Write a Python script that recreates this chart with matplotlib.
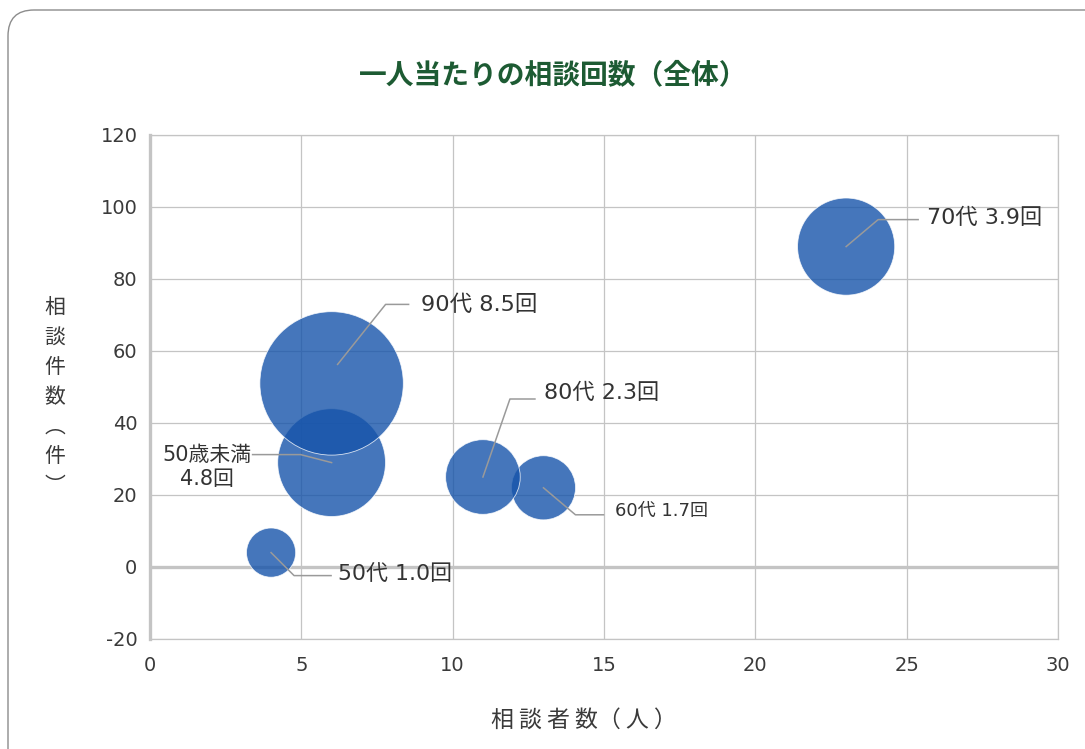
import matplotlib
matplotlib.use("Agg")
import matplotlib.pyplot as plt
from matplotlib.patches import FancyBboxPatch
from matplotlib.lines import Line2D
from matplotlib.transforms import IdentityTransform

plt.rcParams['font.family'] = ['DejaVu Sans', 'Noto Sans CJK JP']
plt.rcParams['axes.unicode_minus'] = False

# data
groups = ["50歳未満", "50代", "60代", "70代", "80代", "90代"]
persons = [6, 4, 13, 23, 11, 6]        # 相談者数
cases = [29, 4, 22, 89, 25, 51]        # 相談件数
per_person = [4.8, 1.0, 1.7, 3.9, 2.3, 8.5]

xticks = [0, 5, 10, 15, 20, 25, 30]
yticks = [-20, 0, 20, 40, 60, 80, 100, 120]

# label layout (pixel offsets from bubble centre, y up)
lead_start = [(0, 0), (0, 0), (0, 0), (0, 0), (0, 0), (6, 19)]
lead_elbow = [(-31, 8), (23, -23), (32, -27), (32, 27), (27, 78), (54, 79)]
lead_end = [(-79, 8), (60, -23), (60, -27), (72, 27), (52, 78), (77, 79)]
text_off = [(-80, -4), (67, -22), (72, -23), (81, 29), (61, 84), (89, 79)]
text_size = [15, 15.8, 13, 16, 16, 16.2]

W, H = 1085, 749
fig = plt.figure(figsize=(W / 100, H / 100), dpi=100)
ax = fig.add_axes([150 / W, 1 - 639 / H, 908 / W, 504 / H])

bubble_col = (22 / 255, 84 / 255, 170 / 255)
ax.scatter(persons, cases, s=[1255 * v for v in per_person],
           color=bubble_col, alpha=0.8, edgecolors=(1, 1, 1, 0.7),
           linewidths=0.6, zorder=3)

ax.set_xlim(0, 30)
ax.set_ylim(-20, 120)
ax.set_xticks(xticks)
ax.set_yticks(yticks)
ax.tick_params(length=0, labelsize=14, colors='#3a3a3a')
ax.tick_params(axis='y', pad=9)
ax.tick_params(axis='x', pad=12)
ax.grid(True, color='#c4c4c4', lw=0.9)
ax.set_axisbelow(True)
for s in ['top', 'right', 'bottom']:
    ax.spines[s].set_color('#c4c4c4')
    ax.spines[s].set_linewidth(0.9)
ax.spines['left'].set_color('#c4c4c4')
ax.spines['left'].set_linewidth(2.4)
ax.axhline(0, color='#c4c4c4', lw=2.4, zorder=1)

# leader lines + labels
for i in range(len(groups)):
    px, py = ax.transData.transform((persons[i], cases[i]))
    xs = [px + lead_start[i][0], px + lead_elbow[i][0], px + lead_end[i][0]]
    ys = [py + lead_start[i][1], py + lead_elbow[i][1], py + lead_end[i][1]]
    fig.add_artist(Line2D(xs, ys, transform=IdentityTransform(),
                          color='#9a9a9a', lw=1.1, zorder=5))
    if groups[i] == "50歳未満":
        txt = groups[i] + "\n" + f"{per_person[i]:.1f}回"
        ha = 'right'
    else:
        txt = f"{groups[i]} {per_person[i]:.1f}回"
        ha = 'left'
    fig.text(px + text_off[i][0], py + text_off[i][1], txt,
             transform=IdentityTransform(), ha=ha, va='center',
             multialignment='center', linespacing=1.25,
             fontsize=text_size[i], color='#333333', zorder=6)

# title and axis titles
fig.text(553 / W, 1 - 75 / H, "一人当たりの相談回数（全体）", ha='center',
         va='center', fontsize=20, fontweight='bold', color='#1d5b33',
         family=['Noto Sans CJK JP', 'DejaVu Sans'])
fig.text(584 / W, 1 - 720 / H, "相 談 者 数（ 人 ）", ha='center',
         va='center', fontsize=16.5, color='#3a3a3a',
         family=['Noto Sans CJK JP', 'DejaVu Sans'])
fig.text(55 / W, 1 - 397 / H, "\n".join("相談件数︵件︶"), ha='center',
         va='center', fontsize=15, color='#3a3a3a', linespacing=1.45,
         family=['Noto Sans CJK JP', 'DejaVu Sans'])

# rounded outer frame
fig.add_artist(FancyBboxPatch((8, -60), 1200, H - 10 + 60,
                              boxstyle="round,pad=0,rounding_size=26",
                              transform=IdentityTransform(), fill=False,
                              ec='#8c8c8c', lw=1.0))

fig.savefig("out.png", dpi=100)
